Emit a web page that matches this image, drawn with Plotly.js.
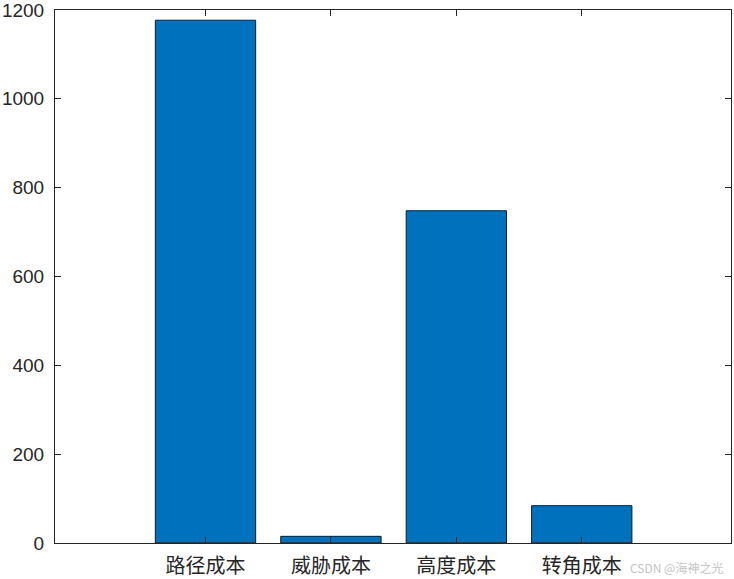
<!DOCTYPE html>
<html>
<head>
<meta charset="utf-8">
<script src="https://cdn.plot.ly/plotly-3.0.1.min.js"></script>
<style>
  html, body { margin: 0; padding: 0; background: #fff; }
  #plot { width: 734px; height: 579px; }
</style>
</head>
<body>
<div id="plot"></div>
<script>
// cost categories and their values
var categories = ["路径成本", "威胁成本", "高度成本", "转角成本"];
var costValues = [1177, 15, 748, 84];
var yTicks = [0, 200, 400, 600, 800, 1000, 1200];

var trace = {
    x: categories,
    y: costValues,
    type: "bar",
    width: 0.8,
    marker: {color: "#0072BD", line: {color: "#1a1a1a", width: 1}},
    hoverinfo: "x+y"
};

var axisColor = "#262626";

var layout = {
    width: 734,
    height: 579,
    margin: {l: 55, r: 3, t: 10, b: 36},
    paper_bgcolor: "#ffffff",
    plot_bgcolor: "#ffffff",
    showlegend: false,
    bargap: 0.2,
    xaxis: {
        type: "category",
        range: [-1.2, 4.19],
        showline: true,
        mirror: "ticks",
        linecolor: axisColor,
        linewidth: 1,
        ticks: "inside",
        ticklen: 6,
        tickcolor: axisColor,
        showgrid: false,
        zeroline: false,
        tickfont: {family: "Noto Sans CJK SC", size: 20, color: axisColor},
        ticklabelstandoff: 5,
        ticklabeloverflow: "allow"
    },
    yaxis: {
        range: [0, 1200],
        tickvals: yTicks,
        showline: true,
        mirror: "ticks",
        linecolor: axisColor,
        linewidth: 1,
        ticks: "inside",
        ticklen: 6,
        tickcolor: axisColor,
        showgrid: false,
        zeroline: false,
        tickfont: {family: "Liberation Sans, Arial, sans-serif", size: 19, color: axisColor},
        ticklabelstandoff: 6,
        ticklabeloverflow: "allow"
    },
    annotations: [{
        text: "CSDN @海神之光",
        xref: "paper", yref: "paper",
        x: 1, y: 0,
        xanchor: "right", yanchor: "top",
        xshift: -6, yshift: -14,
        showarrow: false,
        font: {family: "Noto Sans CJK SC", size: 12, color: "#c4c4c4"}
    }]
};

Plotly.newPlot("plot", [trace], layout, {displayModeBar: false, staticPlot: true});
</script>
</body>
</html>
